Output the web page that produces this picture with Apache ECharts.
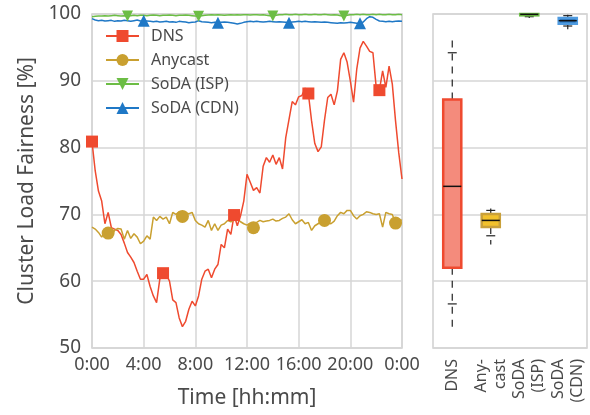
<!DOCTYPE html>
<html>
<head>
<meta charset="utf-8">
<script src="https://cdn.jsdelivr.net/npm/echarts@6/dist/echarts.min.js"></script>
<style>
  html, body { margin: 0; padding: 0; background: #fff; }
  #chart { width: 590px; height: 415px; }
</style>
</head>
<body>
<div id="chart"></div>
<script>
// samples every 15 minutes, 0:00 .. 24:00
const dns = [
  80.9, 76.5, 73.5, 72.0, 68.6, 70.3, 68.0, 67.8, 67.6, 67.0, 65.7, 64.3, 63.6, 62.8, 61.5, 60.3,
  60.3, 61.0, 59.2, 57.8, 56.8, 60.3, 61.2, 61.0, 60.0, 57.2, 56.8, 54.5, 53.2, 54.0, 55.8, 57.0,
  56.3, 57.8, 60.3, 61.5, 61.8, 60.5, 61.8, 62.5, 65.5, 65.0, 67.8, 67.0, 69.9, 68.3, 69.8, 72.0,
  76.0, 74.8, 73.6, 74.0, 73.2, 77.2, 78.5, 77.8, 78.9, 77.5, 78.5, 76.8, 81.5, 84.2, 86.9, 86.4,
  87.6, 87.8, 88.9, 88.1, 84.0, 80.6, 79.4, 80.1, 84.1, 87.5, 88.0, 86.4, 88.5, 93.2, 94.2, 92.8,
  90.0, 86.8, 91.8, 94.9, 95.9, 95.2, 94.4, 94.2, 89.1, 88.6, 91.5, 89.0, 92.2, 89.5, 84.0, 79.2,
  75.3
];
const anycast = [
  68.1, 67.8, 67.3, 66.6, 67.4, 67.2, 67.0, 67.6, 67.9, 67.8, 66.3, 67.6, 66.4, 67.1, 66.6, 65.6,
  66.0, 66.8, 66.3, 69.6, 69.1, 69.7, 69.3, 69.6, 68.6, 70.3, 70.0, 70.4, 69.7, 70.2, 70.1, 70.3,
  69.1, 68.6, 68.4, 68.1, 69.1, 67.6, 68.6, 67.6, 68.4, 68.6, 69.1, 68.9, 69.2, 69.3, 68.9, 68.6,
  68.4, 68.7, 68.0, 68.8, 69.1, 68.9, 69.0, 69.1, 69.3, 69.0, 69.1, 69.4, 69.6, 70.1, 69.2, 68.6,
  68.9, 69.2, 68.6, 68.8, 67.6, 68.3, 68.6, 68.9, 69.1, 68.7, 68.6, 69.0, 69.8, 70.3, 70.1, 70.6,
  70.6, 69.8, 69.3, 69.8, 70.0, 70.4, 70.3, 70.1, 70.0, 70.1, 68.1, 70.3, 70.1, 70.0, 68.7, 69.3,
  69.1
];
const sodaIsp = [
  99.6, 99.65, 99.7, 99.7, 99.75, 99.7, 99.75, 99.8, 99.75, 99.7, 99.75, 99.7, 99.75, 99.8, 99.75, 99.8,
  99.8, 99.75, 99.8, 99.85, 99.8, 99.75, 99.8, 99.8, 99.85, 99.8, 99.75, 99.8, 99.8, 99.85, 99.8, 99.75,
  99.7, 99.65, 99.75, 99.8, 99.85, 99.9, 99.85, 99.9, 99.85, 99.8, 99.85, 99.9, 99.85, 99.9, 99.85, 99.9,
  99.9, 99.85, 99.9, 99.9, 99.85, 99.9, 99.8, 99.75, 99.7, 99.8, 99.9, 99.9, 99.95, 99.9, 99.9, 99.95,
  99.9, 99.9, 99.95, 99.9, 99.9, 99.95, 99.9, 99.9, 99.95, 99.9, 99.85, 99.9, 99.85, 99.75, 99.7, 99.8,
  99.9, 99.9, 99.95, 99.9, 99.95, 99.9, 99.9, 99.95, 99.9, 99.95, 99.9, 99.9, 99.95, 99.9, 99.9, 99.95,
  99.9
];
const sodaCdn = [
  99.3, 99.1, 99.0, 99.05, 98.95, 99.0, 99.05, 98.9, 99.0, 98.95, 99.05, 99.0, 98.9, 99.0, 99.1, 98.95,
  99.0, 98.95, 98.9, 98.85, 98.9, 98.8, 98.85, 98.9, 98.8, 98.85, 98.75, 98.9, 98.85, 98.8, 98.7, 98.75,
  98.8, 99.0, 98.85, 98.8, 98.75, 98.7, 98.75, 98.7, 98.75, 98.8, 98.75, 98.7, 98.6, 98.5, 98.6, 98.75,
  98.85, 98.9, 98.85, 98.9, 98.85, 98.8, 98.85, 98.9, 98.85, 98.8, 98.85, 98.8, 98.75, 98.7, 98.8, 98.85,
  98.9, 98.85, 98.9, 98.85, 98.8, 98.85, 98.8, 98.75, 98.8, 98.75, 98.7, 98.65, 98.6, 98.7, 98.65, 98.7,
  98.75, 98.7, 98.6, 98.6, 98.8, 99.3, 99.6, 99.5, 99.2, 98.95, 98.9, 98.85, 98.9, 98.85, 98.9, 98.95,
  98.9
];

// which samples carry a marker
const dnsMarks = [0, 22, 44, 67, 89];
const anycastMarks = [5, 28, 50, 72, 94];
const ispMarks = [11, 33, 56, 78];
const cdnMarks = [16, 39, 61, 83];

const timeLabels = ['0:00', '4:00', '8:00', '12:00', '16:00', '20:00', '0:00'];

// box plot panel
const boxCategories = ['DNS', 'Any-\ncast', 'SoDA\n(ISP)', 'SoDA\n(CDN)'];
const boxLow    = [53.1, 65.5, 99.4, 97.7];
const boxQ1     = [62.0, 68.1, 99.8, 98.55];
const boxMedian = [74.2, 69.1, 99.95, 99.0];
const boxQ3     = [87.2, 70.05, 100.0, 99.4];
const boxHigh   = [96.2, 70.9, 100.0, 99.9];
const capLow    = [56.6, 66.8, 99.6, 98.2];
const capHigh   = [94.2, 70.6, 100.0, 99.75];

const txt = '#4a4a4a';
const gridLine = '#d6d6d6';
const font = 'Noto Sans';

const hours = dns.map((_, i) => i / 4);

function lineSeries(name, values, marks, color, symbol, size) {
  return {
    name: name,
    type: 'line',
    xAxisIndex: 0,
    yAxisIndex: 0,
    symbol: symbol,
    symbolSize: size,
    showAllSymbol: true,
    lineStyle: { width: 1.5, color: color },
    itemStyle: { color: color },
    emphasis: { disabled: true },
    data: values.map((v, i) => marks.includes(i) ? [hours[i], v] : { value: [hours[i], v], symbol: 'none' })
  };
}

const boxFill   = ['#f48b7c', '#f2c12c', '#8fd46a', '#2a74bd'];
const boxStroke = ['#ef4a2f', '#c9a03a', '#6cbd45', '#4f9be0'];

const boxData = boxCategories.map((c, i) => [i, boxLow[i], boxQ1[i], boxMedian[i], boxQ3[i], boxHigh[i], capLow[i], capHigh[i]]);

function renderBox(params, api) {
  const i = api.value(0);
  const x = api.coord([i, 0])[0];
  const half = api.size([1, 0])[0] * 0.235;
  const y = v => api.coord([i, api.value(v)])[1];
  const black = { stroke: '#222', lineWidth: 1.2 };
  const dashed = { stroke: '#222', lineWidth: 1.2, lineDash: [7, 6] };
  return {
    type: 'group',
    children: [
      { type: 'line', shape: { x1: x, y1: y(2), x2: x, y2: y(1) }, style: dashed },
      { type: 'line', shape: { x1: x, y1: y(4), x2: x, y2: y(5) }, style: dashed },
      { type: 'line', shape: { x1: x - 4.5, y1: y(6), x2: x + 4.5, y2: y(6) }, style: black },
      { type: 'line', shape: { x1: x - 4.5, y1: y(7), x2: x + 4.5, y2: y(7) }, style: black },
      { type: 'rect', shape: { x: x - half, y: y(4), width: half * 2, height: y(2) - y(4) },
        style: { fill: boxFill[i], stroke: boxStroke[i], lineWidth: 2.5 } },
      { type: 'line', shape: { x1: x - half, y1: y(3), x2: x + half, y2: y(3) }, style: { stroke: '#111', lineWidth: 1.5 } }
    ]
  };
}

const chart = echarts.init(document.getElementById('chart'));

const option = {
  animation: false,
  textStyle: { fontFamily: font },
  grid: [
    { left: 92, top: 14, width: 310, height: 334, show: true, borderColor: '#cfcfcf', borderWidth: 1.5 },
    { left: 433, top: 14, width: 154, height: 334, show: true, borderColor: '#cfcfcf', borderWidth: 1.5 }
  ],
  legend: {
    orient: 'vertical',
    left: 105,
    top: 28,
    padding: 0,
    itemWidth: 33,
    itemHeight: 15,
    itemGap: 8,
    textStyle: { fontFamily: font, fontSize: 16, color: txt, padding: [0, 0, 0, 7] },
    data: ['DNS', 'Anycast', 'SoDA (ISP)', 'SoDA (CDN)']
  },
  xAxis: [
    {
      type: 'value', gridIndex: 0, min: 0, max: 24, interval: 4,
      name: 'Time [hh:mm]', nameLocation: 'middle', nameGap: 40,
      nameTextStyle: { fontFamily: font, fontSize: 21, color: txt },
      axisLine: { show: false }, axisTick: { show: false },
      axisLabel: { fontFamily: font, fontSize: 18, color: txt, margin: 8, formatter: v => timeLabels[Math.round(v / 4)] },
      splitLine: { lineStyle: { color: gridLine, width: 1.5 } }
    },
    {
      type: 'category', gridIndex: 1, data: boxCategories,
      axisLine: { show: false }, axisTick: { show: false },
      axisLabel: { fontFamily: font, fontSize: 16, lineHeight: 19, color: txt, rotate: 90, margin: 11, interval: 0 },
      splitLine: { show: false }
    }
  ],
  yAxis: [
    {
      type: 'value', gridIndex: 0, min: 50, max: 100, interval: 10,
      name: 'Cluster Load Fairness [%]', nameLocation: 'middle', nameGap: 54,
      nameTextStyle: { fontFamily: font, fontSize: 21, color: txt },
      axisLine: { show: false }, axisTick: { show: false },
      axisLabel: { fontFamily: font, fontSize: 19, color: txt, margin: 11 },
      splitLine: { lineStyle: { color: gridLine, width: 1.5 } }
    },
    {
      type: 'value', gridIndex: 1, min: 50, max: 100, interval: 10,
      axisLine: { show: false }, axisTick: { show: false },
      axisLabel: { show: false },
      splitLine: { lineStyle: { color: gridLine, width: 1.5 } }
    }
  ],
  series: [
    lineSeries('DNS', dns, dnsMarks, '#ef4a2f', 'rect', 12),
    lineSeries('Anycast', anycast, anycastMarks, '#c9a030', 'circle', 13),
    lineSeries('SoDA (ISP)', sodaIsp, ispMarks, '#6cbd45', 'path://M0,0L10,0L5,9Z', 11),
    lineSeries('SoDA (CDN)', sodaCdn, cdnMarks, '#1f78c6', 'triangle', 12),
    {
      type: 'custom',
      xAxisIndex: 1,
      yAxisIndex: 1,
      renderItem: renderBox,
      data: boxData,
      silent: true
    }
  ]
};

chart.setOption(option);
</script>
</body>
</html>
